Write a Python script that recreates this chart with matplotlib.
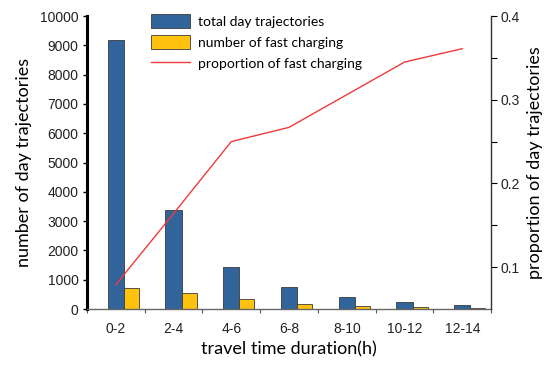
import matplotlib.pyplot as plt
import numpy as np
from matplotlib.ticker import MultipleLocator, FixedLocator

# Data
durations = ['0-2', '2-4', '4-6', '6-8', '8-10', '10-12', '12-14']
total_traj = [9170, 3380, 1440, 740, 400, 250, 120]
fast_charging = [730, 540, 355, 185, 95, 70, 35]
proportion = [0.079, 0.164, 0.250, 0.267, 0.306, 0.345, 0.361]

blue = '#30649A'
yellow = '#FFC20E'
red = '#F03A3A'
label_font = ['Lato', 'DejaVu Sans']
tick_font = ['Liberation Sans', 'DejaVu Sans']

fig = plt.figure(figsize=(5.5, 3.65), dpi=100)
ax = fig.add_axes([0.158, 0.1534, 0.735, 0.8027])
ax2 = ax.twinx()

x = np.arange(len(durations))
b1 = ax.bar(x, total_traj, width=0.28, color=blue, edgecolor='#3a3a3a',
            linewidth=0.6, label='total day trajectories', zorder=2)
b2 = ax.bar(x + 0.14, fast_charging, width=0.26, align='edge', color=yellow,
            edgecolor='#3a3a3a', linewidth=0.6, label='number of fast charging', zorder=2)
l1, = ax2.plot(x, proportion, color=red, linewidth=1.0, label='proportion of fast charging')

# left axis
ax.set_xlim(-0.5, 6.5)
ax.set_ylim(0, 10000)
ax.yaxis.set_major_locator(MultipleLocator(1000))
ax.set_xticks(x)
ax.set_xticklabels(durations)
ax.xaxis.set_minor_locator(FixedLocator(np.arange(-0.5, 7, 1)))
ax.tick_params(axis='x', which='major', length=0, pad=9, labelsize=10)
ax.tick_params(axis='x', which='minor', length=3, width=0.8, color='#555555')
ax.tick_params(axis='y', length=3, width=1, labelsize=10, pad=3)
for lab in ax.get_xticklabels() + ax.get_yticklabels():
    lab.set_family(tick_font)
    lab.set_color('#222222')

ax.spines['top'].set_visible(False)
ax.spines['right'].set_visible(False)
ax.spines['left'].set_linewidth(2.2)
ax.spines['left'].set_color('black')
ax.spines['bottom'].set_linewidth(1.0)
ax.spines['bottom'].set_color('#666666')

ax.set_xlabel('travel time duration(h)', fontsize=13, family=label_font, labelpad=4)
ax.set_ylabel('number of day trajectories', fontsize=13, family=label_font, labelpad=6)

# right axis
ax2.set_ylim(0.05, 0.4)
ax2.yaxis.set_major_locator(FixedLocator([0.1, 0.2, 0.3, 0.4]))
ax2.yaxis.set_minor_locator(FixedLocator([0.15, 0.25, 0.35]))
ax2.tick_params(axis='y', which='major', length=4, width=0.8, labelsize=10, pad=3)
ax2.tick_params(axis='y', which='minor', length=4, width=0.8)
for lab in ax2.get_yticklabels():
    lab.set_family(tick_font)
    lab.set_color('#222222')
ax2.spines['top'].set_visible(False)
ax2.spines['left'].set_visible(False)
ax2.spines['bottom'].set_visible(False)
ax2.spines['right'].set_linewidth(1.0)
ax2.spines['right'].set_color('#333333')
ax2.set_ylabel('proportion of day trajectories', fontsize=13, family=label_font, labelpad=5)

leg = ax2.legend([b1, b2, l1], [b1.get_label(), b2.get_label(), l1.get_label()],
                 loc='upper left', bbox_to_anchor=(151 / 550, 1 - 14 / 365),
                 bbox_transform=fig.transFigure, frameon=False,
                 prop={'family': label_font, 'size': 10},
                 handlelength=2.8, handleheight=1.2, labelspacing=0.5,
                 borderpad=0, borderaxespad=0, handletextpad=0.6)

plt.savefig('out.png', dpi=100)
